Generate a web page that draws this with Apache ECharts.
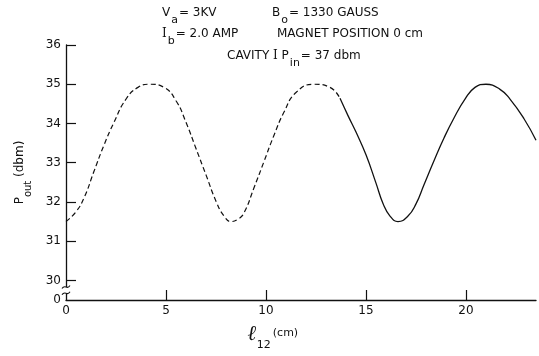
<!DOCTYPE html>
<html>
<head>
<meta charset="utf-8">
<script src="https://cdn.jsdelivr.net/npm/echarts@6/dist/echarts.min.js"></script>
<style>html,body{margin:0;padding:0;background:#fff}#c{width:539px;height:356px}</style>
</head>
<body>
<div id="c"></div>
<script>
// Data
const lengthDashed = [0, 0.5, 0.9, 1.4, 1.9, 2.4, 3.0, 3.6, 4.2, 4.9, 5.5, 6.0, 6.5, 7.0, 7.5, 7.9, 8.25, 8.6, 8.9, 9.4, 9.9, 10.4, 10.9, 11.5, 12.4, 13.2, 13.7];
const poutDashed   = [31.5, 31.75, 32.1, 32.78, 33.45, 34.03, 34.62, 34.92, 35.0, 34.92, 34.58, 34.03, 33.36, 32.69, 32.02, 31.64, 31.5, 31.56, 31.72, 32.36, 33.03, 33.7, 34.29, 34.79, 35.0, 34.92, 34.64];
const lengthSolid  = [13.7, 14.1, 14.5, 15.0, 15.5, 15.85, 16.2, 16.6, 17.1, 17.5, 17.9, 18.4, 18.9, 19.4, 19.95, 20.45, 21.0, 21.7, 22.2, 22.9, 23.5];
const poutSolid    = [34.64, 34.2, 33.78, 33.2, 32.48, 31.96, 31.64, 31.5, 31.64, 31.95, 32.44, 33.05, 33.63, 34.14, 34.62, 34.92, 35.0, 34.87, 34.62, 34.12, 33.57];
const xTickLabels  = [0, 5, 10, 15, 20];
const yTickLabels  = [30, 31, 32, 33, 34, 35, 36];
const yBreakValue  = 29.5; // shown as "0" below the axis break

const FONT = 'DejaVu Sans';
const INK = '#111';

function pairs(xs, ys) { return xs.map((x, i) => [x, ys[i]]); }

const chart = echarts.init(document.getElementById('c'), null, {renderer: 'canvas'});
const option = {
  animation: false,
  backgroundColor: '#fff',
  grid: {left: 66, right: 3, top: 45, bottom: 53, containLabel: false},
  xAxis: {
    type: 'value', min: 0, max: 23.5,
    axisLine: {show: true, lineStyle: {color: INK, width: 1.3}},
    axisTick: {show: true, inside: true, length: 10, customValues: xTickLabels.slice(1), lineStyle: {color: INK, width: 1.2}},
    axisLabel: {customValues: xTickLabels, color: INK, fontFamily: FONT, fontSize: 12, margin: 5},
    splitLine: {show: false},
    name: '{l|ℓ}{sub|12}{u|(cm)}',
    nameLocation: 'middle', nameGap: 24,
    nameTextStyle: {
      padding: [0, 56, 0, 0],
      rich: {
        l: {fontFamily: 'DejaVu Serif', fontStyle: 'italic', fontWeight: 'bold', fontSize: 21, color: INK, lineHeight: 22, verticalAlign: 'top'},
        sub: {fontFamily: FONT, fontSize: 11, color: INK, padding: [16, 2, 0, 0], verticalAlign: 'top'},
        u: {fontFamily: FONT, fontSize: 11, color: INK, padding: [4, 0, 0, 0], verticalAlign: 'top'}
      }
    }
  },
  yAxis: {
    type: 'value', min: yBreakValue, max: 36,
    axisLine: {show: true, lineStyle: {color: INK, width: 1.3}},
    axisTick: {show: true, inside: true, length: 10, customValues: yTickLabels, lineStyle: {color: INK, width: 1.2}},
    axisLabel: {
      customValues: [yBreakValue].concat(yTickLabels),
      color: INK, fontFamily: FONT, fontSize: 12, margin: 5,
      formatter: v => (v === yBreakValue ? '0' : String(v))
    },
    splitLine: {show: false},
    name: '{p|P}{s|out}{u| (dbm)}',
    nameLocation: 'middle', nameGap: 33, nameRotate: 90,
    nameTextStyle: {
      rich: {
        p: {fontFamily: FONT, fontSize: 12, color: INK, verticalAlign: 'top'},
        s: {fontFamily: FONT, fontSize: 10, color: INK, padding: [9, 0, 0, 0], verticalAlign: 'top'},
        u: {fontFamily: FONT, fontSize: 12, color: INK, verticalAlign: 'top'}
      }
    }
  },
  series: [
    {
      type: 'line', data: pairs(lengthDashed, poutDashed), smooth: 0.5, symbol: 'none',
      lineStyle: {color: INK, width: 1.2, type: [5, 3]}
    },
    {
      type: 'line', data: pairs(lengthSolid, poutSolid), smooth: 0.5, symbol: 'none',
      lineStyle: {color: INK, width: 1.3}
    }
  ]
};
chart.setOption(option);

// Header annotations and axis-break squiggle
function headerText(left, top, rich) {
  return {
    type: 'text', left: left, top: top, z: 10,
    style: {
      text: rich, fill: INK,
      rich: {
        n: {fontFamily: FONT, fontSize: 12, color: INK, verticalAlign: 'top'},
        sub: {fontFamily: FONT, fontSize: 11, color: INK, padding: [8, 1, 0, 1], verticalAlign: 'top'},
        r: {fontFamily: 'DejaVu Serif', fontSize: 12, color: INK, verticalAlign: 'top'}
      }
    }
  };
}
const ax = chart.convertToPixel({xAxisIndex: 0}, 0);
const yA = chart.convertToPixel({yAxisIndex: 0}, 29.83);
const yB = chart.convertToPixel({yAxisIndex: 0}, 29.67);
const squig = (y) => ({
  type: 'bezierCurve', z: 12,
  shape: {x1: ax - 4, y1: y + 1.5, cpx1: ax - 1, cpy1: y - 3.5, cpx2: ax + 1, cpy2: y + 3.5, x2: ax + 4, y2: y - 1.5},
  style: {stroke: INK, lineWidth: 1.1, fill: null}
});
chart.setOption({
  graphic: [
    headerText(162, 7, '{n|V}{sub|a}{n|= 3KV}'),
    headerText(272, 7, '{n|B}{sub|o}{n|= 1330 GAUSS}'),
    headerText(162, 28, '{r|I}{sub|b}{n|= 2.0 AMP}'),
    headerText(277, 28, '{n|MAGNET POSITION 0 cm}'),
    headerText(227, 50, '{n|CAVITY }{r|I}{n| P}{sub|in}{n|= 37 dbm}'),
    {type: 'rect', z: 11, shape: {x: ax - 2, y: yA, width: 4, height: yB - yA}, style: {fill: '#fff'}},
    squig(yA),
    squig(yB)
  ]
});
</script>
</body>
</html>
